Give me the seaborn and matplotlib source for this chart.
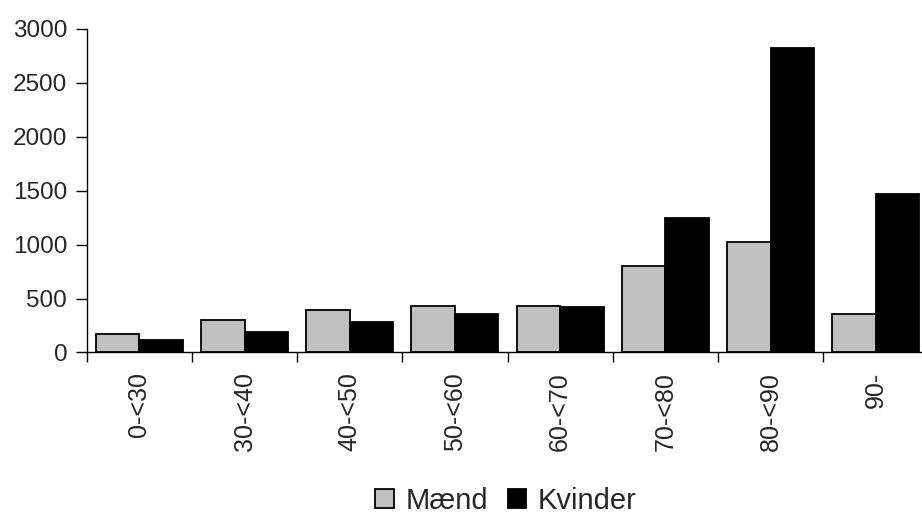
import matplotlib
matplotlib.use("Agg")
import matplotlib.pyplot as plt
import seaborn as sns
import pandas as pd
from matplotlib.patches import Patch

# Age groups and counts per sex
age_groups = ["0-<30", "30-<40", "40-<50", "50-<60", "60-<70", "70-<80", "80-<90", "90-"]
maend = [172, 299, 392, 432, 429, 799, 1024, 355]
kvinder = [117, 191, 283, 358, 417, 1246, 2820, 1469]
series_names = ["Mænd", "Kvinder"]
colors = ["#C0C0C0", "#000000"]

df = pd.DataFrame({
    "Alder": age_groups * 2,
    "Antal": maend + kvinder,
    "Køn": [series_names[0]] * len(age_groups) + [series_names[1]] * len(age_groups),
})

sns.set_theme(style="white")
plt.rcParams["font.family"] = ["Liberation Sans", "DejaVu Sans"]

fig = plt.figure(figsize=(9.22, 5.16), dpi=100)
ax = fig.add_axes([0.094, 0.317, 0.913, 0.627])

sns.barplot(
    data=df, x="Alder", y="Antal", hue="Køn", order=age_groups,
    hue_order=series_names, palette=colors,
    width=0.826, edgecolor="black", linewidth=1.3, ax=ax, legend=False,
)

ax.set_xlim(-0.5, len(age_groups) - 0.5)
ax.set_ylim(0, 3000)
ax.set_yticks(range(0, 3001, 500))
ax.set_xlabel("")
ax.set_ylabel("")

for side in ["top", "right"]:
    ax.spines[side].set_visible(False)
for side in ["left", "bottom"]:
    ax.spines[side].set_color("black")
    ax.spines[side].set_linewidth(1.0)

ax.tick_params(axis="y", direction="out", length=8, width=1, color="black",
               labelsize=17.5, pad=6, left=True)
# category labels centred under each group, tick marks on group boundaries
ax.set_xticks(range(len(age_groups)))
ax.set_xticklabels(age_groups, rotation=90, fontsize=18)
ax.tick_params(axis="x", which="major", length=0, pad=14)
ax.set_xticks([i - 0.5 for i in range(len(age_groups) + 1)], minor=True)
ax.tick_params(axis="x", which="minor", direction="out", length=7, width=1,
               color="black", bottom=True)

handles = [Patch(facecolor=c, edgecolor="black", linewidth=1.3) for c in colors]
fig.legend(handles, series_names, loc="center", bbox_to_anchor=(0.549, 0.03),
           ncol=2, frameon=False, fontsize=21, handlelength=0.62,
           handleheight=0.62, handletextpad=0.4, columnspacing=0.7,
           borderpad=0, borderaxespad=0)

fig.savefig("out.png", dpi=100)
